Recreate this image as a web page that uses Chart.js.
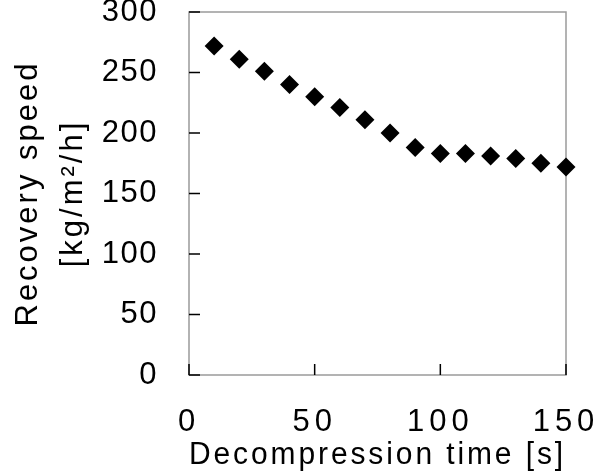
<!DOCTYPE html>
<html>
<head>
<meta charset="utf-8">
<script src="https://cdn.jsdelivr.net/npm/chart.js@4.4.0/dist/chart.umd.min.js"></script>
<style>
  html, body { margin: 0; padding: 0; background: #fff; }
  #wrap { width: 606px; height: 473px; }
</style>
</head>
<body>
<div id="wrap"><canvas id="chart" width="606" height="473"></canvas></div>
<script>
const decompressionTime = [10, 20, 30, 40, 50, 60, 70, 80, 90, 100, 110, 120, 130, 140, 150];
const recoverySpeed = [272, 261, 251, 240, 230, 221, 211, 200, 188, 183, 183, 181, 179, 175, 172];
const xTicks = [0, 50, 100, 150];
const yTicks = [0, 50, 100, 150, 200, 250, 300];
const xTitle = 'Decompression time [s]';
const yTitle = ['Recovery speed', '[kg/m²/h]'];

const FONT = "'Liberation Sans', Arial, sans-serif";

// canvas letter spacing per scale (labels / title)
const spacing = {
  x: { labels: '5px', title: '3px' },
  y: { labels: '1.5px', title: '3px' },
};

const letterSpacingPlugin = {
  id: 'letterSpacing',
  beforeDraw(chart) {
    const ctx = chart.ctx;
    Object.keys(spacing).forEach((id) => {
      const scale = chart.scales[id];
      if (!scale || scale._spaced) return;
      scale._spaced = true;
      ['drawLabels', 'drawTitle'].forEach((name) => {
        const orig = scale[name];
        const value = name === 'drawLabels' ? spacing[id].labels : spacing[id].title;
        scale[name] = function (...args) {
          ctx.save();
          ctx.letterSpacing = value;
          orig.apply(this, args);
          ctx.restore();
        };
      });
    });
  },
};

// gray frame round the plot, black ticks pointing inward
const framePlugin = {
  id: 'frame',
  beforeDatasetsDraw(chart) {
    const { ctx, chartArea: a, scales } = chart;
    ctx.save();
    ctx.strokeStyle = '#9a9a9a';
    ctx.lineWidth = 1.5;
    ctx.strokeRect(a.left, a.top, a.right - a.left, a.bottom - a.top);
    ctx.strokeStyle = '#000';
    ctx.lineWidth = 1.5;
    ctx.beginPath();
    scales.x.ticks.forEach((t) => {
      const px = scales.x.getPixelForValue(t.value);
      ctx.moveTo(px, a.bottom);
      ctx.lineTo(px, a.bottom - 11);
    });
    scales.y.ticks.forEach((t) => {
      const py = scales.y.getPixelForValue(t.value);
      ctx.moveTo(a.left, py);
      ctx.lineTo(a.left + 11, py);
    });
    ctx.stroke();
    ctx.restore();
  },
};

const ctx = document.getElementById('chart').getContext('2d');
new Chart(ctx, {
  type: 'scatter',
  data: {
    datasets: [
      {
        label: 'Recovery speed',
        data: decompressionTime.map((t, i) => ({ x: t, y: recoverySpeed[i] })),
        pointStyle: 'rectRot',
        pointRadius: 9.5,
        pointHoverRadius: 9.5,
        backgroundColor: '#000',
        borderColor: '#000',
        borderWidth: 0,
        clip: false,
      },
    ],
  },
  options: {
    responsive: false,
    animation: false,
    events: [],
    layout: {
      padding: { top: 12, right: 40, left: 0, bottom: 0 },
    },
    plugins: {
      legend: { display: false },
      tooltip: { enabled: false },
    },
    scales: {
      x: {
        type: 'linear',
        min: 0,
        max: 150,
        afterBuildTicks: (scale) => {
          scale.ticks = xTicks.map((v) => ({ value: v }));
        },
        afterFit: (scale) => {
          scale.height = 98;
          scale.paddingLeft = 0;
          scale.paddingRight = 0;
        },
        grid: { display: false },
        border: { display: false },
        ticks: {
          color: '#000',
          padding: 21,
          maxRotation: 0,
          font: { family: FONT, size: 31 },
        },
        title: {
          display: true,
          text: xTitle,
          color: '#000',
          padding: { top: 0, bottom: 0 },
          font: { family: FONT, size: 31, lineHeight: 1.15 },
        },
      },
      y: {
        type: 'linear',
        min: 0,
        max: 300,
        afterBuildTicks: (scale) => {
          scale.ticks = yTicks.map((v) => ({ value: v }));
        },
        afterFit: (scale) => {
          scale.width = 189;
          scale.paddingTop = 0;
          scale.paddingBottom = 0;
        },
        grid: { display: false },
        border: { display: false },
        ticks: {
          color: '#000',
          padding: 23,
          font: { family: FONT, size: 31 },
        },
        title: {
          display: true,
          text: yTitle,
          color: '#000',
          padding: { top: 6, bottom: 0 },
          font: { family: FONT, size: 31, lineHeight: 1.45 },
        },
      },
    },
  },
  plugins: [letterSpacingPlugin, framePlugin],
});
</script>
</body>
</html>
